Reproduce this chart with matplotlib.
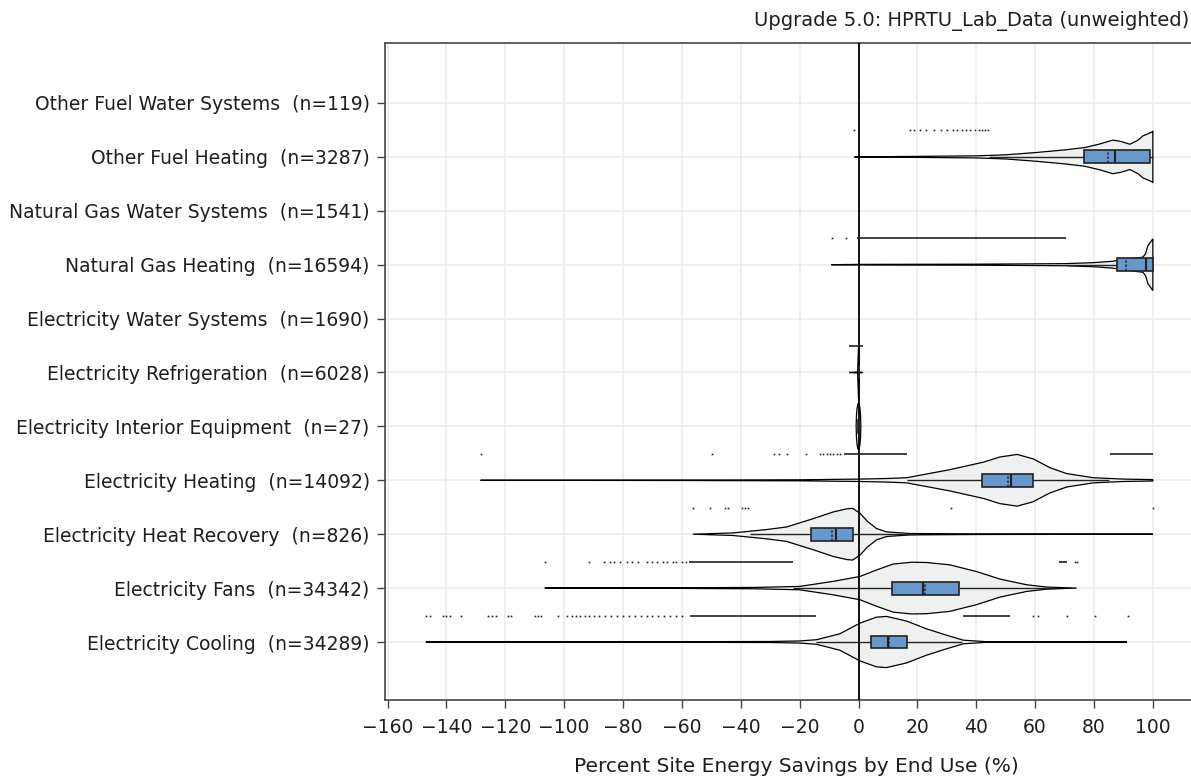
import numpy as np
import matplotlib
matplotlib.use("Agg")
import matplotlib.pyplot as plt
from matplotlib.patches import Rectangle

# categories, listed bottom to top
END_USES = ["Electricity Cooling", "Electricity Fans", "Electricity Heat Recovery",
            "Electricity Heating", "Electricity Interior Equipment", "Electricity Refrigeration",
            "Electricity Water Systems", "Natural Gas Heating", "Natural Gas Water Systems",
            "Other Fuel Heating", "Other Fuel Water Systems"]
COUNTS = [34289, 34342, 826, 14092, 27, 6028, 1690, 16594, 1541, 3287, 119]

# box statistics (percent savings), None where no box is visible
Q1 = [4.1, 11.3, -16.0, 42.1, -0.1, 0.0, None, 87.8, None, 76.6, None]
MEDIAN = [9.9, 22.0, -7.8, 51.9, 0.0, 0.0, None, 97.8, None, 87.1, None]
Q3 = [16.6, 34.0, -2.0, 59.3, 0.1, 0.0, None, 100.0, None, 99.0, None]
MEAN = [10.2, 22.6, -9.1, 50.8, 0.0, 0.0, None, 90.8, None, 84.7, None]
WHISK_LO = [-14.3, -22.4, -37.0, 16.4, -0.1, 0.0, None, 70.5, None, 44.5, None]
WHISK_HI = [35.0, 67.0, 19.0, 85.0, 0.1, 0.0, None, 100.0, None, 100.0, None]

# violin outlines: value knots and relative half-width (1 = widest)
VIOLIN_AT = {
    "Electricity Cooling": [-147, -100, -60, -30, -20, -14.2, -6.3, 0.5, 6.1, 9.5, 16.3, 23.1, 30, 35.6, 43.5, 60, 91.2],
    "Electricity Fans": [-106.6, -60, -35, -20, -8.6, 0.5, 6.1, 11.8, 18, 23.1, 31, 40.1, 48, 57.1, 63.9, 74.1],
    "Electricity Heat Recovery": [-56.3, -42.6, -31.2, -24.4, -15.4, -8.6, -4, -2, 0.5, 3, 6.1, 9.5, 17.5, 40, 100],
    "Electricity Heating": [-128.4, -60, -20, 0, 10, 16.4, 31, 42.4, 48, 53.9, 59.3, 65, 70.7, 79.7, 90, 100],
    "Electricity Interior Equipment": [-0.8, -0.7, -0.5, -0.25, 0, 0.25, 0.5, 0.7, 0.8],
    "Electricity Refrigeration": [-3.2, -0.3, 0, 0.3, 1.4],
    "Natural Gas Heating": [-9.2, 0, 40, 70, 80, 86, 90, 95, 96.6, 97.5, 98.3, 99.5, 100],
    "Other Fuel Heating": [-1.4, 20, 40, 50, 60.4, 70, 76.8, 82, 86.4, 89, 92.2, 95, 96.6, 99.7, 100],
}
VIOLIN_WIDTH = {
    "Electricity Cooling": [0, 0.008, 0.012, 0.02, 0.04, 0.09, 0.32, 0.73, 0.96, 0.99, 0.81, 0.51, 0.26, 0.07, 0.012, 0.004, 0],
    "Electricity Fans": [0, 0.012, 0.027, 0.065, 0.26, 0.45, 0.7, 0.93, 1.0, 0.99, 0.9, 0.64, 0.35, 0.13, 0.04, 0],
    "Electricity Heat Recovery": [0, 0.05, 0.18, 0.28, 0.6, 0.86, 0.98, 1.0, 0.81, 0.5, 0.22, 0.09, 0.027, 0.012, 0],
    "Electricity Heating": [0, 0.008, 0.02, 0.046, 0.07, 0.1, 0.41, 0.7, 0.9, 1.0, 0.83, 0.49, 0.26, 0.1, 0.046, 0.027],
    "Electricity Interior Equipment": [0, 0.42, 0.69, 0.85, 0.9, 0.85, 0.69, 0.42, 0],
    "Electricity Refrigeration": [0, 0.02, 1.0, 0.02, 0],
    "Natural Gas Heating": [0, 0.012, 0.02, 0.04, 0.08, 0.13, 0.19, 0.27, 0.29, 0.42, 0.73, 0.92, 1.0],
    "Other Fuel Heating": [0, 0.02, 0.04, 0.08, 0.17, 0.27, 0.36, 0.5, 0.65, 0.6, 0.49, 0.65, 0.81, 0.96, 1.0],
}

# outlier points drawn above each violin: single points and dense runs (start, end)
OUTLIERS = {
    "Electricity Cooling": [-147, -145.6, -141.3, -140, -138.8, -134.9, -125.9, -124.5, -123, -119.2, -117.9,
                            -110, -108.8, -107.7, -102, -99.2, -97.5, -96, -94.6, -93, -91.5, -90, -88, -86,
                            -84, -82, -80, -78, -76, -74, -72, -70, -68, -66, -64, -62, -60,
                            59.3, 61, 70.7, 80.3, 91.6],
    "Electricity Fans": [-106.6, -91.6, -86.5, -84.5, -83, -81, -78.5, -77, -75, -72, -70, -68.5, -66.5,
                         -65, -63, -62, -60, -58.5, 73.5, 74.1],
    "Electricity Heat Recovery": [-56.3, -50.4, -45.4, -44.4, -39.7, -38.6, -37.5, 31.3, 100],
    "Electricity Heating": [-128.4, -49.9, -28.6, -27, -24.4, -17.7, -13.1, -12, -10.8, -9.7, -8.5, -7.2, -6.3],
    "Natural Gas Heating": [-9.1, -4.3],
    "Other Fuel Heating": [-1.4, 17.5, 19, 21, 23, 25.5, 28, 30, 32, 33.5, 35, 36.5, 38, 39.5, 41, 42, 43, 44],
}
OUTLIER_RUNS = {
    "Electricity Cooling": [(-57.3, -14.3), (35.4, 51.4)],
    "Electricity Fans": [(-57.5, -22.4), (68.2, 70.7)],
    "Electricity Heating": [(-5.0, 16.4), (85.4, 100.0)],
    "Electricity Refrigeration": [(-3.2, 1.4)],
    "Natural Gas Heating": [(-0.6, 70.4)],
}

TITLE = "Upgrade 5.0: HPRTU_Lab_Data (unweighted)"
XLABEL = "Percent Site Energy Savings by End Use (%)"
XTICKS = list(range(-160, 101, 20))

HALF = 0.48      # widest violin half-width, in category units
BOX_HALF = 0.12  # box half-height
VIOLIN_FILL = "#EFF0F0"
BOX_FILL = "#6798CB"
INK = "#222222"
TEXT = "#1e1e1e"

plt.rcParams["font.family"] = ["DejaVu Sans"]
fig = plt.figure(figsize=(11.91, 7.78), dpi=100)
ax = fig.add_axes([385 / 1191, 78 / 778, 822 / 1191, 657 / 778])

for i, name in enumerate(END_USES):
    if name in VIOLIN_AT:
        v = np.array(VIOLIN_AT[name], dtype=float)
        w = np.array(VIOLIN_WIDTH[name], dtype=float) * HALF
        xs = np.concatenate([v, v[::-1]])
        ys = np.concatenate([i + w, (i - w)[::-1]])
        ax.fill(xs, ys, facecolor=VIOLIN_FILL, edgecolor="black", lw=0.9, zorder=3)

    if Q1[i] is not None:
        ax.hlines(i, WHISK_LO[i], Q1[i], color=INK, lw=1.0, zorder=4)
        ax.hlines(i, Q3[i], WHISK_HI[i], color=INK, lw=1.0, zorder=4)
        ax.add_patch(Rectangle((Q1[i], i - BOX_HALF), Q3[i] - Q1[i], 2 * BOX_HALF,
                               facecolor=BOX_FILL, edgecolor=INK, lw=1.2, zorder=5))
        ax.vlines(MEDIAN[i], i - BOX_HALF, i + BOX_HALF, color=INK, lw=1.5, zorder=6)
        ax.vlines(MEAN[i], i - BOX_HALF, i + BOX_HALF, color=INK, lw=1.1,
                  linestyles=(0, (1.5, 1.2)), zorder=6)

    yo = i + 0.49
    for a, b in OUTLIER_RUNS.get(name, []):
        ax.hlines(yo, a, b, color=INK, lw=1.2, zorder=4)
    pts = OUTLIERS.get(name, [])
    if pts:
        ax.plot(pts, [yo] * len(pts), ls="none", marker="s", ms=1.2, color=INK, mew=0, zorder=4)

ax.axvline(0, color="black", lw=1.3, zorder=3.5)

ax.set_xlim(-160.87, 118.4)
ax.set_ylim(-1.076, 11.113)
ax.set_xticks(XTICKS)
ax.set_yticks(range(len(END_USES)))
ax.set_yticklabels([f"{n}  (n={c})" for n, c in zip(END_USES, COUNTS)])
ax.tick_params(axis="both", labelsize=13.5, length=6, width=1.0, color="#444444",
               labelcolor=TEXT)
ax.tick_params(axis="y", pad=5)
ax.tick_params(axis="x", pad=7)
ax.grid(color="#EBEBEB", lw=1.1)
ax.set_axisbelow(True)
for side in ["left", "bottom", "top"]:
    ax.spines[side].set_color("#444444")
    ax.spines[side].set_linewidth(1.2)
ax.spines["right"].set_visible(False)

fig.text(796 / 1191, 1 - 766 / 778, XLABEL, ha="center", va="center", fontsize=14.5, color=TEXT)
fig.text(1189 / 1191, 1 - 21 / 778, TITLE, ha="right", va="center", fontsize=14, color=TEXT)

fig.savefig("out.png", dpi=100)
